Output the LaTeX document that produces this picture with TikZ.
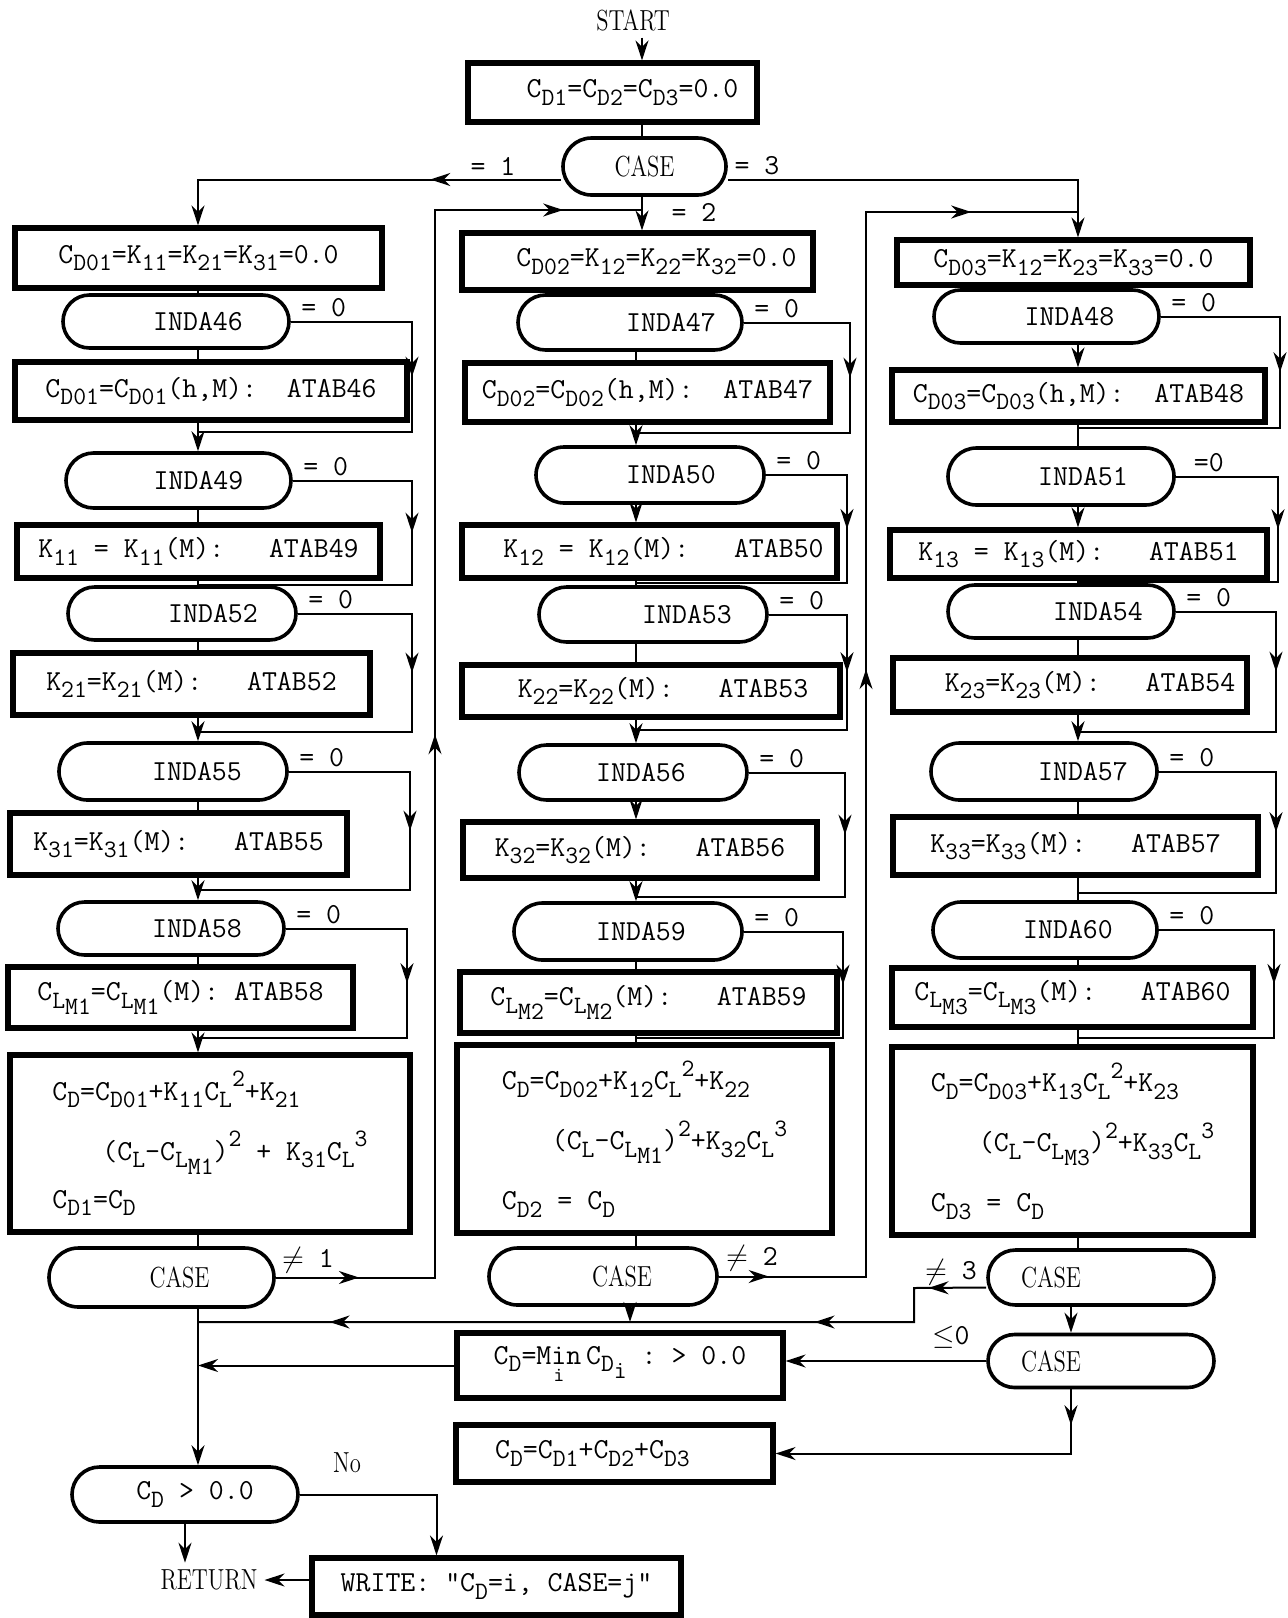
\documentclass[tikz,border=0pt]{standalone}
\usepackage{amsmath}
\usepackage{graphicx}
\usepackage{tikz}
\usetikzlibrary{arrows.meta,shapes.misc,decorations.markings,calc}
\newcommand{\lo}[1]{\raisebox{-0.6ex}{\fontsize{12.5}{12.5}\selectfont #1}}
\newcommand{\hi}[1]{\raisebox{1.1ex}{\fontsize{12.5}{12.5}\selectfont #1}}
\newcommand{\slim}[1]{\scalebox{0.78}[1]{\rmfamily #1}}

\begin{document}
\begin{tikzpicture}[x=0.5pt,y=-0.5pt,
  font=\fontsize{14.5}{24}\selectfont\ttfamily,
  >={Stealth[length=10pt,width=6.5pt]},
  box/.style={draw,line width=2.6pt,inner sep=3pt,align=center},
  oval/.style={draw,rounded rectangle,line width=1.8pt,inner sep=3pt},
  line/.style={line width=1pt},
  flow/.style={line,->},
  tipat/.style={postaction={decorate,decoration={markings,
    mark=at position #1 with {\arrow{>}}}}},
  lbl/.style={inner sep=1pt}
]
  \useasboundingbox (0,0) rectangle (1288,1618);
  \coordinate (colT) at (642,0);
  \coordinate (colL) at (198,0);
  \coordinate (colM) at (636,0);
  \coordinate (colR) at (1078,0);
  \coordinate (colRb) at (1071,0);

  % top
  \node (start) at (633,20) {\slim{START}};
  \node[box,minimum width=144.5pt,minimum height=29.5pt] (init) at (612.5,92.5)
    {\hspace*{20pt}C\lo{D1}=C\lo{D2}=C\lo{D3}=0.0};
  \node[oval,minimum width=87.5pt,minimum height=28.5pt] (case0) at (644.5,166.5)
    {\slim{CASE}};
  \node[lbl] (lab1) at (493,166) {= 1};
  \node[lbl] (lab3) at (757,166) {= 3};
  \node[lbl] (lab2) at (694,212) {= 2};

  % case 1
  \node[box,minimum width=183.5pt,minimum height=30pt] (l1) at (198.5,258)
    {C\lo{D01}=K\lo{11}=K\lo{21}=K\lo{31}=0.0};
  \node[oval,minimum width=119pt,minimum height=26.5pt] (i46) at (176,321.5)
    {\hspace*{22pt}INDA46};
  \node[box,minimum width=196pt,minimum height=29pt] (l2) at (211,391)
    {C\lo{D01}=C\lo{D01}(h,M):~ ATAB46};
  \node[oval,minimum width=118.5pt,minimum height=27.5pt] (i49) at (178.5,480.5)
    {\hspace*{20pt}INDA49};
  \node[box,minimum width=181.5pt,minimum height=26.5pt] (l3) at (198.5,551.5)
    {K\lo{11} = K\lo{11}(M):~~ ATAB49};
  \node[oval,minimum width=120pt,minimum height=26.5pt] (i52) at (182,613.5)
    {\hspace*{31pt}INDA52};
  \node[box,minimum width=178.5pt,minimum height=31pt] (l4) at (191.5,684)
    {K\lo{21}=K\lo{21}(M):~~ ATAB52};
  \node[oval,minimum width=120pt,minimum height=28.5pt] (i55) at (173,771.5)
    {\hspace*{24pt}INDA55};
  \node[box,minimum width=168.5pt,minimum height=31pt] (l5) at (178.5,844)
    {K\lo{31}=K\lo{31}(M):~~ ATAB55};
  \node[oval,minimum width=119pt,minimum height=26.5pt] (i58) at (171,928.5)
    {\hspace*{26pt}INDA58};
  \node[box,minimum width=172.5pt,minimum height=30.5pt] (l6) at (180.5,997.5)
    {C\lo{L\lo{M1}}=C\lo{L\lo{M1}}(M): ATAB58};
  \node[box,minimum width=200pt,minimum height=88.5pt,align=left] (l7)
    at (210,1143.5)
    {C\lo{D}=C\lo{D01}+K\lo{11}C\lo{L}\hi{2}+K\lo{21}\\[6pt]
    \hspace*{25pt}(C\lo{L}-C\lo{L\lo{M1}})\hi{2} + K\lo{31}C\lo{L}\hi{3}\\
    C\lo{D1}=C\lo{D}};
  \node[oval,minimum width=118.5pt,minimum height=29.5pt] (casel)
    at (161.5,1277.5) {\hspace*{18pt}\slim{CASE}};

  % case 2
  \node[box,minimum width=175.5pt,minimum height=28.5pt] (m1) at (637.5,261.5)
    {\hspace*{19pt}C\lo{D02}=K\lo{12}=K\lo{22}=K\lo{32}=0.0};
  \node[oval,minimum width=118pt,minimum height=27.5pt] (i47) at (630,322.5)
    {\hspace*{41pt}INDA47};
  \node[box,minimum width=182.5pt,minimum height=29.5pt] (m2) at (647.5,392.5)
    {C\lo{D02}=C\lo{D02}(h,M):~ ATAB47};
  \node[oval,minimum width=120pt,minimum height=28pt] (i50) at (650,475)
    {\hspace*{21pt}INDA50};
  \node[box,minimum width=187.5pt,minimum height=26.5pt] (m3) at (649.5,551.5)
    {\hspace*{14pt}K\lo{12} = K\lo{12}(M):~~ ATAB50};
  \node[oval,minimum width=120pt,minimum height=27.5pt] (i53) at (653,614.5)
    {\hspace*{34pt}INDA53};
  \node[box,minimum width=189pt,minimum height=26pt] (m4) at (651,691)
    {\hspace*{12pt}K\lo{22}=K\lo{22}(M):~~ ATAB53};
  \node[oval,minimum width=120pt,minimum height=27.5pt] (i56) at (633,772.5)
    {\hspace*{8pt}INDA56};
  \node[box,minimum width=177pt,minimum height=28pt] (m5) at (640,850)
    {K\lo{32}=K\lo{32}(M):~~ ATAB56};
  \node[oval,minimum width=120pt,minimum height=28.5pt] (i59) at (628,931.5)
    {\hspace*{13pt}INDA59};
  \node[box,minimum width=188.5pt,minimum height=30.5pt] (m6) at (648.5,1002.5)
    {C\lo{L\lo{M2}}=C\lo{L\lo{M2}}(M):~~ ATAB59};
  \node[box,minimum width=187.5pt,minimum height=94pt,align=left] (m7)
    at (644.5,1139)
    {C\lo{D}=C\lo{D02}+K\lo{12}C\lo{L}\hi{2}+K\lo{22}\\[6pt]
    \hspace*{25pt}(C\lo{L}-C\lo{L\lo{M1}})\hi{2}+K\lo{32}C\lo{L}\hi{3}\\[6pt]
    C\lo{D2} = C\lo{D}};
  \node[oval,minimum width=120pt,minimum height=28.5pt] (casem) at (603,1276.5)
    {\hspace*{19pt}\slim{CASE}};

  % case 3
  \node[box,minimum width=176.5pt,minimum height=22.5pt] (r1) at (1073.5,262.5)
    {C\lo{D03}=K\lo{12}=K\lo{23}=K\lo{33}=0.0};
  \node[oval,minimum width=118.5pt,minimum height=26.5pt] (i48) at (1046.5,316.5)
    {\hspace*{23pt}INDA48};
  \node[box,minimum width=186.5pt,minimum height=26pt] (r2) at (1078.5,396)
    {C\lo{D03}=C\lo{D03}(h,M):~ ATAB48};
  \node[oval,minimum width=119pt,minimum height=28.5pt] (i51) at (1061,476.5)
    {\hspace*{22pt}INDA51};
  \node[box,minimum width=188.5pt,minimum height=24pt] (r3) at (1078.5,554)
    {K\lo{13} = K\lo{13}(M):~~ ATAB51};
  \node[oval,minimum width=119pt,minimum height=26.5pt] (i54) at (1061,611.5)
    {\hspace*{37pt}INDA54};
  \node[box,minimum width=177pt,minimum height=27pt] (r4) at (1070,685)
    {\hspace*{20pt}K\lo{23}=K\lo{23}(M):~~ ATAB54};
  \node[oval,minimum width=119pt,minimum height=28.5pt] (i57) at (1044,771.5)
    {\hspace*{39pt}INDA57};
  \node[box,minimum width=182.5pt,minimum height=29pt] (r5) at (1075.5,846)
    {K\lo{33}=K\lo{33}(M):~~ ATAB57};
  \node[oval,minimum width=118pt,minimum height=28pt] (i60) at (1045,930)
    {\hspace*{23pt}INDA60};
  \node[box,minimum width=180.5pt,minimum height=29.5pt] (r6) at (1072.5,997.5)
    {C\lo{L\lo{M3}}=C\lo{L\lo{M3}}(M):~~ ATAB60};
  \node[box,minimum width=180.5pt,minimum height=94pt,align=left] (r7)
    at (1072.5,1141)
    {C\lo{D}=C\lo{D03}+K\lo{13}C\lo{L}\hi{2}+K\lo{23}\\[6pt]
    \hspace*{24pt}(C\lo{L}-C\lo{L\lo{M3}})\hi{2}+K\lo{33}C\lo{L}\hi{3}\\[6pt]
    C\lo{D3} = C\lo{D}};
  \node[oval,minimum width=119pt,minimum height=27.5pt] (caser) at (1101,1277.5)
    {\slim{CASE}\hspace*{50pt}};
  \node[oval,minimum width=119pt,minimum height=26.5pt] (casen) at (1101,1361)
    {\slim{CASE}\hspace*{50pt}};

  % bottom
  \node[box,minimum width=163pt,minimum height=32.5pt] (cmin) at (620,1365.5)
    {C\lo{D}=$\underset{\text{i}}{\text{Min}}$\,C\lo{D\lo{i}}~:~> 0.0};
  \node[box,minimum width=158.5pt,minimum height=28.5pt] (csum) at (614.5,1453.5)
    {C\lo{D}=C\lo{D1}+C\lo{D2}+C\lo{D3}\hspace*{22pt}};
  \node[oval,minimum width=119pt,minimum height=27.5pt] (cpos) at (185,1494.5)
    {\hspace*{10pt}C\lo{D} > 0.0};
  \node[box,minimum width=184.5pt,minimum height=28.5pt] (write) at (496.5,1586.5)
    {WRITE: "C\lo{D}=i, CASE=j"};
  \node (ret) at (209,1580) {\slim{RETURN}};
  \node[lbl] (no) at (347,1463) {\slim{No}};
  \node[lbl] (ne1) at (308,1260) {$\neq$ 1};
  \node[lbl] (ne2) at (752,1258) {$\neq$ 2};
  \node[lbl] (ne3) at (951,1272) {$\neq$ 3};
  \node[lbl] (le0) at (951,1337) {$\leq$0};

  % main line
  \draw[flow] (start.south -| colT) -- (init.north -| colT);
  \draw[line] (init.south -| colT) -- (case0.north -| colT);
  \draw[flow,tipat=0.32] ([yshift=-6.5pt]case0.west) -| (l1.north -| colL);
  \draw[flow] (case0.south -| colT) -- (m1.north -| colT);
  \draw[flow] ([yshift=-6.5pt]case0.east) -| (r1.north -| colR);

  \foreach \a/\b/\s in {l1/i46/line, i46/l2/line, l2/i49/flow, i49/l3/line,
      l3/i52/line, i52/l4/line, l4/i55/flow, i55/l5/line, l5/i58/flow,
      i58/l6/line, l6/l7/flow, l7/casel/line}
    \draw[\s] (\a.south -| colL) -- (\b.north -| colL);
  \foreach \a/\b/\s in {m1/i47/line, i47/m2/line, m2/i50/flow, i50/m3/flow,
      m3/i53/line, i53/m4/line, m4/i56/flow, i56/m5/flow, m5/i59/flow,
      i59/m6/line, m6/m7/line, m7/casem/line}
    \draw[\s] (\a.south -| colM) -- (\b.north -| colM);
  \foreach \a/\b/\s in {r1/i48/line, i48/r2/flow, r2/i51/line, i51/r3/flow,
      r3/i54/line, i54/r4/line, r4/i57/flow, i57/r5/line, r5/i60/line,
      i60/r6/line, r6/r7/line, r7/caser/line}
    \draw[\s] (\a.south -| colR) -- (\b.north -| colR);

  % bypass when an index is zero
  \foreach \ox/\cx/\rx/\jy/\tx in {46/198/412/432/= 0, 49/198/412/585/= 0,
      52/198/412/732/= 0, 55/198/410/890/= 0, 58/198/407/1038/= 0,
      47/636/850/433/= 0, 50/636/847/583/= 0, 53/636/847/730/= 0,
      56/636/845/897/= 0, 59/636/843/1038/= 0,
      48/1078/1280/428/= 0, 51/1078/1278/582/=0, 54/1078/1276/732/= 0,
      57/1078/1276/893/= 0, 60/1078/1274/1038/= 0}{
    \coordinate (j\ox) at (\cx,\jy);
    \coordinate (k\ox) at (\rx,\jy);
    \draw[line] (i\ox.east) -| (k\ox) -- (j\ox);
    \draw[line,tipat=0.5] (i\ox.east -| k\ox) -- (k\ox);
    \node[lbl] (z\ox) at ($(i\ox.east)+(33,-14)$) {\tx};
  }

  % loops back to the next case
  \coordinate (rtL) at (435,210);
  \coordinate (jtM) at (642,210);
  \draw[line,tipat=0.058,tipat=0.49,tipat=0.945] (casel.east) -| (rtL) -- (jtM);
  \coordinate (rtM) at (866,212);
  \coordinate (jtR) at (1078,212);
  \draw[line,tipat=0.035,tipat=0.53,tipat=0.925] (casem.east) -| (rtM) -- (jtR);

  % end of cases
  \coordinate (cb1) at (914,1288);
  \coordinate (cb2) at (914,1322);
  \coordinate (jb) at (198,1322);
  \coordinate (jm) at (630,1322);
  \draw[line,tipat=0.07,tipat=0.25,tipat=0.84] ([yshift=-5pt]caser.west)
    -- (cb1) -- (cb2) -- (jb);
  \draw[flow] (casem.south -| jm) -- (jm);
  \draw[flow] (caser.south -| colRb) -- (casen.north -| colRb);
  \draw[flow] (casen.west) -- (casen.west -| cmin.east);
  \draw[flow] (cmin.west) -- (cmin.west -| colL);
  \draw[flow,tipat=0.1] (casen.south -| colRb) |- (csum.east);
  \draw[flow] (casel.south -| colL) -- (cpos.north -| colL);
  \draw[flow] (cpos.east) -| ([xshift=-30pt]write.north);
  \draw[flow] (cpos.south) -- (cpos.south |- ret.north);
  \draw[flow] (ret.east -| write.west) -- (ret.east);
\end{tikzpicture}
\end{document}
